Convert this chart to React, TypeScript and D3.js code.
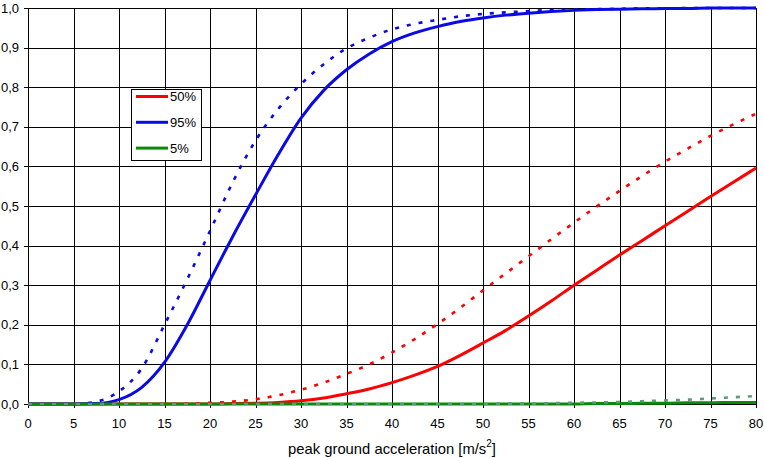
import * as d3 from 'd3';

// x positions shared by every curve (peak ground acceleration, m/s²)
const pga = [
  0, 2.5, 5, 7.5, 10, 12.5, 15, 17.5, 20, 22.5, 25, 27.5, 30, 32.5, 35, 37.5, 40,
  42.5, 45, 47.5, 50, 52.5, 55, 57.5, 60, 62.5, 65, 67.5, 70, 72.5, 75, 77.5, 80,
];

// solid curves
const p50 = [
  0, 0, 0, 0, 0, 0, 0, 0, 0, 0.001, 0.002, 0.004, 0.008, 0.015, 0.026, 0.038, 0.054,
  0.073, 0.095, 0.123, 0.154, 0.186, 0.222, 0.26, 0.3, 0.338, 0.376, 0.413, 0.45, 0.487, 0.524, 0.56, 0.596,
];
const p95 = [
  0, 0, 0, 0.001, 0.011, 0.042, 0.105, 0.2, 0.312, 0.423, 0.528, 0.63, 0.722, 0.792, 0.844, 0.884, 0.915,
  0.937, 0.953, 0.966, 0.975, 0.982, 0.987, 0.991, 0.994, 0.996, 0.997, 0.998, 0.999, 0.999, 1, 1, 1,
];
const p5 = [
  0, 0, 0, 0, 0, 0, 0, 0, 0, 0, 0, 0, 0, 0, 0, 0, 0,
  0, 0, 0, 0, 0, 0, 0, 0, 0.001, 0.001, 0.002, 0.002, 0.003, 0.003, 0.004, 0.004,
];

// dashed curves
const p50b = [
  0, 0, 0, 0, 0, 0, 0, 0.001, 0.003, 0.006, 0.012, 0.022, 0.036, 0.054, 0.076, 0.1, 0.13,
  0.164, 0.202, 0.243, 0.287, 0.33, 0.373, 0.416, 0.458, 0.499, 0.538, 0.576, 0.612, 0.645, 0.677, 0.706, 0.733,
];
const p95b = [
  0, 0, 0, 0.006, 0.032, 0.09, 0.2, 0.315, 0.437, 0.56, 0.665, 0.745, 0.808, 0.858, 0.898, 0.925, 0.946,
  0.96, 0.97, 0.979, 0.985, 0.989, 0.992, 0.995, 0.996, 0.997, 0.998, 0.999, 0.999, 1, 1, 1, 1,
];
const p5b = [
  0, 0, 0, 0, 0, 0, 0, 0, 0, 0, 0, 0, 0, 0, 0, 0, 0,
  0, 0, 0, 0, 0.001, 0.001, 0.002, 0.003, 0.004, 0.005, 0.007, 0.009, 0.011, 0.014, 0.017, 0.02,
];

const xTicks = [0, 5, 10, 15, 20, 25, 30, 35, 40, 45, 50, 55, 60, 65, 70, 75, 80];
const yTicks = [0, 0.1, 0.2, 0.3, 0.4, 0.5, 0.6, 0.7, 0.8, 0.9, 1.0];

const legendItems = [
  { label: '50%', color: '#ff0000' },
  { label: '95%', color: '#0a0ae6' },
  { label: '5%', color: '#0a8a0a' },
];

const series = [
  { values: p50, color: '#ff0000', dash: null },
  { values: p95, color: '#0a0ae6', dash: null },
  { values: p5, color: '#0a8a0a', dash: null },
  { values: p50b, color: '#ff0000', dash: '4 8' },
  { values: p95b, color: '#0a0ae6', dash: '4 8' },
  { values: p5b, color: '#5b9a78', dash: '4 8' },
];

const W = 764;
const H = 458;
const left = 28;
const right = 756;
const top = 8;
const bottom = 404;
const font = 'Arial, "Liberation Sans", sans-serif';

export default function App() {
  const x = d3.scaleLinear().domain([0, 80]).range([left, right]);
  const y = d3.scaleLinear().domain([0, 1]).range([bottom, top]);

  const line = d3
    .line<number>()
    .x((_, i) => x(pga[i]))
    .y((v) => y(v))
    .curve(d3.curveMonotoneX);

  const fmt = (v: number) => v.toFixed(1).replace('.', ',');
  const px = (v: number) => Math.round(v) + 0.5;

  return (
    <svg
      width={W}
      height={H}
      style={{ position: 'absolute', left: 0, top: 0, background: '#fff' }}
      fontFamily={font}
    >
      <rect width={W} height={H} fill="#fff" />

      {/* grid */}
      {xTicks.map((t) => (
        <line key={'gx' + t} x1={px(x(t))} x2={px(x(t))} y1={top} y2={bottom + 4} stroke="#000" strokeWidth={1} />
      ))}
      {yTicks.map((t) => (
        <line key={'gy' + t} x1={left - 4} x2={right} y1={px(y(t))} y2={px(y(t))} stroke="#000" strokeWidth={1} />
      ))}

      {/* tick labels */}
      {yTicks.map((t) => (
        <text key={'ly' + t} x={19} y={y(t) + 4.5} textAnchor="end" fontSize={13} fill="#000">
          {fmt(t)}
        </text>
      ))}
      {xTicks.map((t) => (
        <text key={'lx' + t} x={x(t)} y={427.5} textAnchor="middle" fontSize={13} fill="#000">
          {t}
        </text>
      ))}

      {/* curves */}
      {series.map((s, i) => (
        <path
          key={'s' + i}
          d={line(s.values) ?? ''}
          fill="none"
          stroke={s.color}
          strokeWidth={s.dash ? 2.6 : 3}
          strokeDasharray={s.dash ?? undefined}
          strokeLinejoin="round"
        />
      ))}

      {/* legend */}
      <rect x={131.5} y={89.5} width={70} height={71} fill="#fff" stroke="#000" strokeWidth={1} />
      {legendItems.map((d, i) => (
        <g key={d.label} transform={`translate(0,${96.5 + i * 25.8})`}>
          <line x1={136} x2={168} y1={0} y2={0} stroke={d.color} strokeWidth={3} />
          <text x={170} y={4.5} fontSize={13} fill="#000">
            {d.label}
          </text>
        </g>
      ))}

      {/* axis title */}
      <text x={392} y={454} textAnchor="middle" fontSize={14.8} fill="#000">
        peak ground acceleration [m/s
        <tspan fontSize={10} dy={-7}>2</tspan>
        <tspan dy={7}>]</tspan>
      </text>
    </svg>
  );
}
